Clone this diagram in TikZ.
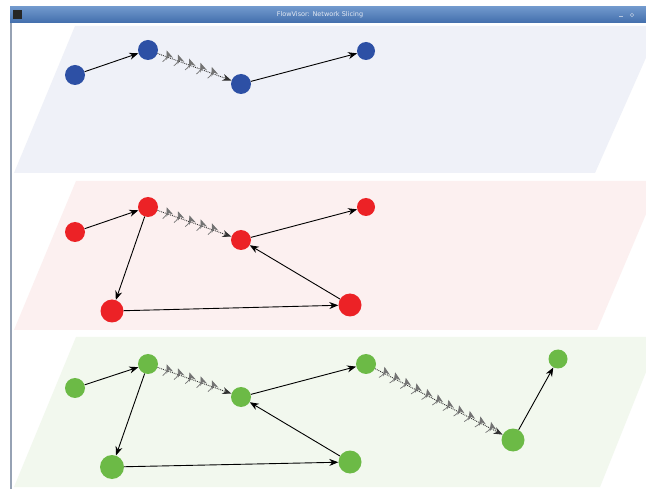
\documentclass[tikz,border=0pt]{standalone}
\usepackage{fontspec}
\setmainfont{DejaVu Sans}
\usetikzlibrary{arrows.meta,decorations.markings}
\definecolor{nodeblue}{RGB}{45,80,165}
\definecolor{nodered}{RGB}{236,34,38}
\definecolor{nodegreen}{RGB}{108,186,70}
\definecolor{planeblue}{RGB}{239,241,248}
\definecolor{planered}{RGB}{252,240,240}
\definecolor{planegreen}{RGB}{242,248,238}
\definecolor{bartop}{RGB}{112,152,204}
\definecolor{barbot}{RGB}{66,110,172}
\definecolor{winborder}{RGB}{150,162,180}
\begin{document}
\begin{tikzpicture}[x=1pt,y=-1pt,
  nd/.style={circle,inner sep=0pt,minimum size=#1},
  nd/.default=20pt,
  link/.style={draw=black,line width=0.9pt,-{Stealth[length=9pt,width=7pt]}},
  flow/.style={draw=black!80,densely dotted,line width=0.9pt,-{Stealth[length=9pt,width=7pt]},
    postaction={decorate,decoration={markings,
      mark=between positions 9pt and -14pt step 12pt with
      {\draw[solid,black!55,line width=0.7pt] (-1.5,6) .. controls (1,3) and (1,-3) .. (-1.5,-6);}}}}
]
\useasboundingbox (0,0) rectangle (646,489);
\fill[white] (0,0) rectangle (646,489);
% planes
\begin{scope}
\clip (11,23) rectangle (646,489);
\fill[planeblue] (75,26) -- (660,26) -- (595,173) -- (14,173) -- cycle;
\fill[planered] (76,181) -- (660,181) -- (597,330) -- (14,330) -- cycle;
\fill[planegreen] (76,337) -- (660,337) -- (600,487) -- (14,487) -- cycle;
\end{scope}
% window frame
\draw[winborder,line width=1.2pt] (11,22) -- (11,489);
\shade[top color=bartop,bottom color=barbot] (10,7) rectangle (646,23);
\fill[black!85] (13,10) rectangle (22,19);
\node[text=white!85!barbot,font=\fontsize{6.5}{7}\selectfont] (title) at (320,15) {FlowVisor: Network Slicing};
\draw[white!60!barbot,line width=0.6pt] (619,16) -- (623,16);
\draw[white!60!barbot,line width=0.6pt] (632,15) circle (1.8);
% blue slice
\node[nd,fill=nodeblue] (b1) at (75,75) {};
\node[nd,fill=nodeblue] (b2) at (148,50) {};
\node[nd,fill=nodeblue] (b3) at (241,84) {};
\node[nd=18pt,fill=nodeblue] (b4) at (366,51) {};
\draw[link] (b1) -- (b2);
\draw[flow] (b2) -- (b3);
\draw[link] (b3) -- (b4);
% red slice
\node[nd,fill=nodered] (r1) at (75,232) {};
\node[nd,fill=nodered] (r2) at (148,207) {};
\node[nd,fill=nodered] (r3) at (241,240) {};
\node[nd=18pt,fill=nodered] (r4) at (366,207) {};
\node[nd=23pt,fill=nodered] (r5) at (112,311) {};
\node[nd=23pt,fill=nodered] (r6) at (350,305) {};
\draw[link] (r1) -- (r2);
\draw[flow] (r2) -- (r3);
\draw[link] (r3) -- (r4);
\draw[link] (r2) -- (r5);
\draw[link] (r5) -- (r6);
\draw[link] (r6) -- (r3);
% green slice
\node[nd,fill=nodegreen] (g1) at (75,388) {};
\node[nd,fill=nodegreen] (g2) at (148,364) {};
\node[nd,fill=nodegreen] (g3) at (241,397) {};
\node[nd,fill=nodegreen] (g4) at (366,364) {};
\node[nd=24pt,fill=nodegreen] (g5) at (112,467) {};
\node[nd=23pt,fill=nodegreen] (g6) at (350,462) {};
\node[nd=23pt,fill=nodegreen] (g7) at (513,440) {};
\node[nd=19pt,fill=nodegreen] (g8) at (558,359) {};
\draw[link] (g1) -- (g2);
\draw[flow] (g2) -- (g3);
\draw[link] (g3) -- (g4);
\draw[flow] (g4) -- (g7);
\draw[link] (g7) -- (g8);
\draw[link] (g2) -- (g5);
\draw[link] (g5) -- (g6);
\draw[link] (g6) -- (g3);
\end{tikzpicture}
\end{document}
